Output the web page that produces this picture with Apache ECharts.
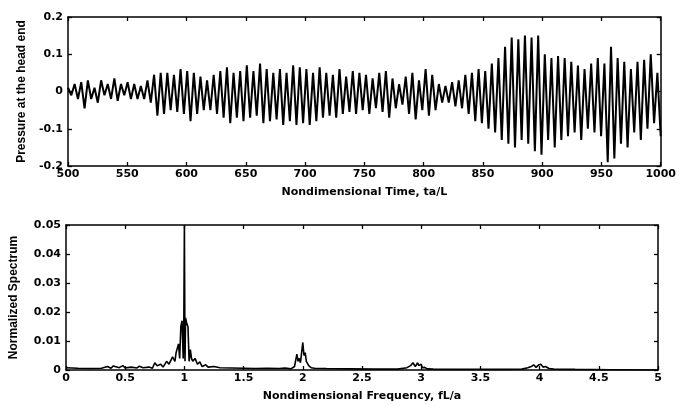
<!DOCTYPE html>
<html>
<head>
<meta charset="utf-8">
<script src="https://cdn.jsdelivr.net/npm/echarts@6/dist/echarts.min.js"></script>
<style>
html, body { margin: 0; padding: 0; background: #fff; }
#chart { width: 679px; height: 405px; }
</style>
</head>
<body>
<div id="chart"></div>
<script>
// pressure at the head end: successive peaks / troughs, 500 -> 1000
var pressure = [
    0.01,-0.01,0.02,-0.02,0.025,-0.045,0.03,-0.02,0.01,-0.03,0.03,-0.01,0.02,-0.02,0.035,-0.025,0.02,-0.01,0.025,-0.02,0.02,-0.02,0.015,-0.02,0.03,-0.03,
    0.045,-0.065,0.05,-0.06,0.05,-0.05,0.045,-0.055,0.06,-0.06,
    0.055,-0.08,0.05,-0.06,0.04,-0.05,0.03,-0.05,0.045,-0.06,0.055,-0.07,0.065,-0.085,0.05,-0.07,0.055,-0.08,
    0.07,-0.07,0.055,-0.065,0.075,-0.085,0.06,-0.08,0.05,-0.075,0.06,-0.09,0.05,-0.08,0.07,-0.09,0.065,-0.085,
    0.06,-0.09,0.05,-0.08,0.065,-0.07,0.05,-0.065,0.045,-0.07,0.06,-0.06,0.04,-0.055,0.055,-0.06,0.05,-0.05,
    0.045,-0.06,0.035,-0.045,0.05,-0.055,0.055,-0.07,0.035,-0.045,0.02,-0.035,0.04,-0.06,0.05,-0.075,0.03,-0.05,
    0.06,-0.065,0.045,-0.05,0.02,-0.03,0.015,-0.03,0.025,-0.04,0.03,-0.045,0.045,-0.06,0.05,-0.08,0.06,-0.085,
    0.055,-0.1,0.075,-0.11,0.09,-0.13,0.12,-0.14,0.145,-0.15,0.14,-0.13,0.15,-0.14,0.145,-0.16,0.15,-0.17,
    0.1,-0.13,0.09,-0.15,0.095,-0.13,0.09,-0.12,0.08,-0.11,0.07,-0.13,0.06,-0.1,0.075,-0.11,0.09,-0.12,
    0.075,-0.19,0.12,-0.18,0.09,-0.14,0.08,-0.15,0.06,-0.11,0.08,-0.13,0.085,-0.1,0.1,-0.085,0.05,-0.12
];
var timeStart = 500, timeEnd = 1000;

// normalized spectrum
var freq = [0,0.1,0.2,0.3,0.35,0.38,0.4,0.45,0.48,0.5,0.55,0.6,0.62,0.65,0.7,0.73,0.75,0.77,0.8,0.82,0.85,0.87,0.9,0.92,0.93,0.95,0.96,0.97,0.98,0.99,0.995,1.0,1.005,1.01,1.02,1.03,1.04,1.05,1.06,1.07,1.09,1.11,1.13,1.15,1.18,1.2,1.25,1.3,1.4,1.5,1.6,1.7,1.8,1.85,1.9,1.93,1.95,1.96,1.97,1.98,1.99,2.0,2.01,2.02,2.03,2.05,2.07,2.1,2.2,2.4,2.6,2.8,2.88,2.91,2.93,2.95,2.97,2.98,3.0,3.01,3.03,3.05,3.1,3.3,3.6,3.85,3.9,3.93,3.95,3.97,3.99,4.01,4.03,4.05,4.08,4.12,4.3,4.6,5.0];
var spectrum = [0.0008,0.0006,0.0005,0.0006,0.0012,0.0006,0.0014,0.0008,0.0015,0.0007,0.001,0.0007,0.0013,0.0008,0.001,0.0006,0.0025,0.0015,0.002,0.001,0.003,0.002,0.0045,0.003,0.006,0.009,0.004,0.015,0.017,0.004,0.016,0.05,0.003,0.018,0.016,0.015,0.003,0.007,0.004,0.003,0.004,0.002,0.0028,0.0012,0.0018,0.001,0.0012,0.0008,0.0007,0.0006,0.0005,0.0006,0.0005,0.0007,0.0004,0.0012,0.0055,0.003,0.004,0.0025,0.006,0.0095,0.005,0.006,0.003,0.0015,0.0008,0.0006,0.0005,0.0004,0.0003,0.0003,0.0008,0.0015,0.0025,0.0012,0.0025,0.0015,0.002,0.0008,0.0009,0.0004,0.0003,0.0002,0.0002,0.0003,0.0008,0.0012,0.0018,0.0009,0.0017,0.002,0.001,0.0012,0.0005,0.0003,0.0002,0.0001,0];

var timeData = [];
for (var i = 0; i < pressure.length; i++) {
    timeData.push([timeStart + i * (timeEnd - timeStart) / (pressure.length - 1), pressure[i]]);
}
var specData = [];
for (var j = 0; j < freq.length; j++) {
    specData.push([freq[j], spectrum[j]]);
}

var labelFont = { color: "#000", fontFamily: "DejaVu Sans", fontWeight: "bold", fontSize: 11 };
var xNameFont = { color: "#000", fontFamily: "DejaVu Sans", fontWeight: "bold", fontSize: 11 };
var yNameFont = { color: "#000", fontFamily: "Liberation Sans", fontWeight: "bold", fontSize: 12 };
var line = { onZero: false, lineStyle: { color: "#000", width: 1.5 } };
var tickIn = { inside: true, length: 4, lineStyle: { color: "#000", width: 1.3 } };
var plain = function (v) { return String(v); };

function frameAxis(gridIndex, pos, min, max, interval) {
    return {
        type: "value", gridIndex: gridIndex, position: pos, min: min, max: max, interval: interval,
        axisLine: line, axisTick: tickIn, axisLabel: { show: false }, splitLine: { show: false }
    };
}

var chart = echarts.init(document.getElementById("chart"));
chart.setOption({
    animation: false,
    backgroundColor: "#fff",
    grid: [
        { left: 68, right: 15, top: 17, height: 149 },
        { left: 65, right: 21, top: 225, height: 145 }
    ],
    xAxis: [
        {
            type: "value", gridIndex: 0, min: 500, max: 1000, interval: 50,
            name: "Nondimensional Time, ta/L", nameLocation: "middle", nameGap: 21, nameTextStyle: xNameFont,
            axisLine: line, axisTick: tickIn,
            axisLabel: Object.assign({ margin: 3, formatter: plain }, labelFont),
            splitLine: { show: false }
        },
        {
            type: "value", gridIndex: 1, min: 0, max: 5, interval: 0.5,
            name: "Nondimensional Frequency, fL/a", nameLocation: "middle", nameGap: 21, nameTextStyle: xNameFont,
            axisLine: line, axisTick: tickIn,
            axisLabel: Object.assign({ margin: 3, formatter: plain }, labelFont),
            splitLine: { show: false }
        },
        frameAxis(0, "top", 500, 1000, 50),
        frameAxis(1, "top", 0, 5, 0.5)
    ],
    yAxis: [
        {
            type: "value", gridIndex: 0, min: -0.2, max: 0.2, interval: 0.1,
            name: "Pressure at the head end", nameLocation: "middle", nameGap: 40, nameTextStyle: yNameFont,
            axisLine: line, axisTick: tickIn,
            axisLabel: Object.assign({ margin: 5, formatter: plain }, labelFont),
            splitLine: { show: false }
        },
        {
            type: "value", gridIndex: 1, min: 0, max: 0.05, interval: 0.01,
            name: "Normalized Spectrum", nameLocation: "middle", nameGap: 46, nameTextStyle: yNameFont,
            axisLine: line, axisTick: tickIn,
            axisLabel: Object.assign({ margin: 5, formatter: plain }, labelFont),
            splitLine: { show: false }
        },
        frameAxis(0, "right", -0.2, 0.2, 0.1),
        frameAxis(1, "right", 0, 0.05, 0.01)
    ],
    series: [
        {
            type: "line", xAxisIndex: 0, yAxisIndex: 0, data: timeData,
            symbol: "none", lineStyle: { color: "#000", width: 2 }
        },
        {
            type: "line", xAxisIndex: 1, yAxisIndex: 1, data: specData,
            symbol: "none", lineStyle: { color: "#000", width: 1.6 }
        }
    ]
});
</script>
</body>
</html>
